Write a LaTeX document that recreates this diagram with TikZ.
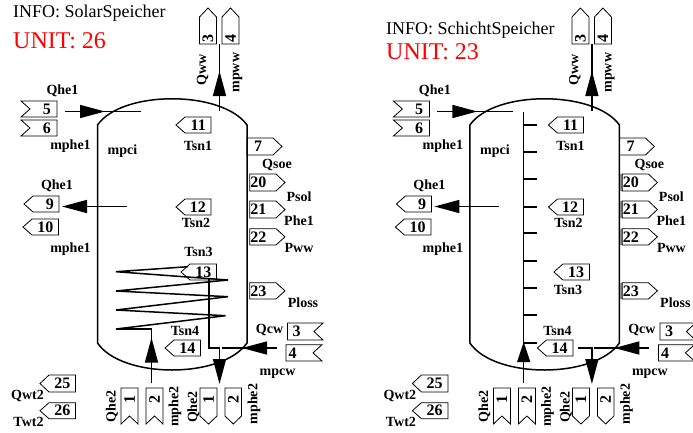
\documentclass[tikz,border=0pt]{standalone}
\usepackage{fontspec}
\setmainfont{Liberation Serif}
\usetikzlibrary{arrows.meta}
\newcommand\tagL[6]{% left pointing: name,x1,x2,y1,y2,num
  \draw[tagline] (#2,{(#4+#5)/2}) -- (#2+9,#4) -- (#3,#4) -- (#3,#5) -- (#2+9,#5) -- cycle;
  \node[num,anchor=east] (#1) at (#3-5,{(#4+#5)/2}) {#6};}
\newcommand\tagR[7]{% right pointing: name,x1,x2,y1,y2,num,text inset
  \draw[tagline] (#2,#4) -- (#3-9,#4) -- (#3,{(#4+#5)/2}) -- (#3-9,#5) -- (#2,#5) -- cycle;
  \node[num,anchor=west] (#1) at (#2+#7,{(#4+#5)/2}) {#6};}
\newcommand\tagNL[6]{% notch on left
  \draw[tagline] (#2,#4) -- (#3,#4) -- (#3,#5) -- (#2,#5) -- (#2+9,{(#4+#5)/2}) -- cycle;
  \node[num,anchor=east] (#1) at (#3-6,{(#4+#5)/2}) {#6};}
\newcommand\tagNR[7]{% notch on right
  \draw[tagline] (#2,#4) -- (#3,#4) -- (#3-9,{(#4+#5)/2}) -- (#3,#5) -- (#2,#5) -- cycle;
  \node[num,anchor=west] (#1) at (#2+#7,{(#4+#5)/2}) {#6};}
\newcommand\tagUp[6]{% up pointing: name,x1,x2,y1,y2,num
  \draw[tagline] (#2,#5) -- (#2,#4+9) -- ({(#2+#3)/2},#4) -- (#3,#4+9) -- (#3,#5) -- cycle;
  \node[num,rotate=90,anchor=west] (#1) at ({(#2+#3)/2},#5-1) {#6};}
\newcommand\tagDn[6]{% down pointing
  \draw[tagline] (#2,#4) -- (#3,#4) -- (#3,#5-8) -- ({(#2+#3)/2},#5) -- (#2,#5-8) -- cycle;
  \node[num,rotate=90] (#1) at ({(#2+#3)/2},#4+11) {#6};}
\newcommand\tagNB[6]{% notch at bottom
  \draw[tagline] (#2,#4) -- (#3,#4) -- (#3,#5) -- ({(#2+#3)/2},#5-8) -- (#2,#5) -- cycle;
  \node[num,rotate=90] (#1) at ({(#2+#3)/2},#4+11) {#6};}
\newcommand\lab[4]{\node[lbl] (#1) at (#2,#3) {#4};}
\newcommand\labV[4]{\node[lbl,rotate=90] (#1) at (#2,#3) {#4};}
\newcommand\common{%
  \draw[wall] (97.5,125) .. controls (122,90) and (222,90) .. (247,125) -- (247,343)
     .. controls (222,379) and (122,379) .. (97.5,343) -- cycle;
  \coordinate (inA) at (65,111.5); \coordinate (inT) at (105,111.5); \coordinate (inB) at (141,111.5);
  \draw[conn] (inA) -- (inB); \draw[conn,big] (inA) -- (inT);
  \coordinate (outA) at (127,206.5); \coordinate (outT) at (62,206.5);
  \draw[conn,big] (outA) -- (outT);
  \coordinate (wwA) at (219.5,111); \coordinate (wwT) at (219.5,71); \coordinate (wwB) at (219.5,44);
  \draw[conn] (wwA) -- (wwB); \draw[conn,big] (wwA) -- (wwT);
  \coordinate (cwA) at (276.7,348); \coordinate (cwT) at (242,348); \coordinate (cwB) at (222,348);
  \draw[conn] (cwA) -- (cwB); \draw[conn,big] (cwA) -- (cwT);
  \tagNL{t5}{21}{57}{101}{117}{5}
  \tagNL{t6}{21}{57}{120}{136}{6}
  \tagL{t9}{24}{59}{196}{212}{9}
  \tagL{t10}{23}{58.5}{219}{235}{10}
  \tagL{t11}{176}{211}{117}{133}{11}
  \tagL{t12}{176}{211}{199}{215}{12}
  \tagL{t14}{165}{200.5}{340}{356}{14}
  \tagR{t7}{247}{282}{138}{155}{7}{7}
  \tagR{t20}{249.7}{285}{174}{191}{20}{0.5}
  \tagR{t21}{249.7}{285}{201}{218}{21}{0.5}
  \tagR{t22}{249.7}{285}{228.7}{245}{22}{0.5}
  \tagR{t23}{249.7}{285}{282.7}{299}{23}{0.5}
  \tagNR{t3}{287.5}{323}{323}{340}{3}{5}
  \tagNR{t4}{286}{322}{344.7}{361}{4}{2.5}
  \tagL{t25}{40}{75.5}{375}{392}{25}
  \tagL{t26}{40}{75.5}{402.7}{418.7}{26}
  \tagUp{u3}{199.5}{216.5}{8}{44}{3}
  \tagUp{u4}{222}{239}{8}{44}{4}
  \tagNB{b1}{121}{138}{388}{424}{1}
  \tagNB{b2}{146}{163}{388}{424}{2}
  \tagDn{d1}{200}{217}{388}{424}{1}
  \tagDn{d2}{225}{241.5}{388}{424}{2}
  \lab{l1}{62.5}{90.5}{Qhe1}
  \lab{l2}{70.5}{146}{mphe1}
  \lab{l3}{122.5}{151}{mpci}
  \lab{l4}{198}{146}{Tsn1}
  \lab{l5}{277}{164.5}{Qsoe}
  \lab{l6}{299}{197}{Psol}
  \lab{l7}{57}{186}{Qhe1}
  \lab{l8}{196}{222.7}{Tsn2}
  \lab{l9}{299}{221}{Phe1}
  \lab{l10}{70.5}{248.7}{mphe1}
  \lab{l11}{299}{248.3}{Pww}
  \lab{l12}{303}{302.7}{Ploss}
  \lab{l13}{269.5}{330.3}{Qcw}
  \lab{l14}{185}{331}{Tsn4}
  \lab{l15}{277.5}{373.7}{mpcw}
  \lab{l16}{27.5}{396}{Qwt2}
  \lab{l17}{28.5}{422}{Twt2}
  \labV{v1}{112}{406.7}{Qhe2}
  \labV{v2}{175}{406.7}{mphe2}
  \labV{v3}{193.5}{407}{Qhe2}
  \labV{v4}{254}{404}{mphe2}
  \labV{v5}{202.5}{70}{Qww}
  \labV{v6}{237.5}{72.7}{mpww}
}
\tikzset{
  x=1pt,y=-1pt,
  tagline/.style={draw=black,line width=0.8pt},
  wall/.style={draw=black,line width=1.5pt},
  conn/.style={draw=black,line width=1.5pt},
  big/.style={-{Triangle[length=25pt,width=13pt]}},
  num/.style={font=\bfseries\fontsize{16}{16}\selectfont,inner sep=0pt},
  lbl/.style={font=\bfseries\fontsize{14}{14}\selectfont,inner sep=0pt},
  info/.style={font=\fontsize{18}{18}\selectfont,inner sep=0pt,anchor=west},
  unit/.style={font=\fontsize{24}{24}\selectfont,text=red,inner sep=0pt,anchor=west},
}
\begin{document}
\begin{tikzpicture}
\useasboundingbox (0,0) rectangle (693,432);
\node[info] (infoA) at (13,13) {INFO: SolarSpeicher};
\node[unit] (unitA) at (13,41) {UNIT: 26};
\node[info] (infoB) at (386,30) {INFO: SchichtSpeicher};
\node[unit] (unitB) at (386,52) {UNIT: 23};
% left tank
\begin{scope}[name prefix=a-]
  \common
  \tagL{t13}{181}{216.5}{264}{280}{13}
  \lab{l18}{198.5}{251.7}{Tsn3}
  \draw[conn,line join=miter] (116,329) -- (225.5,315.7) -- (116,310) -- (228,296.7) -- (116,291) -- (228,280) -- (116,271.7) -- (188,266.7);
  \coordinate (upA) at (151.5,383); \coordinate (upT) at (151.5,337.6); \coordinate (upB) at (151.5,329); \coordinate (coilE) at (116,329);
  \draw[conn] (upA) -- (upB) -- (coilE); \draw[conn,big] (upA) -- (upT);
  \coordinate (dnS) at (208.8,278); \coordinate (dnC) at (208.8,348); \coordinate (dnD) at (219.5,348); \coordinate (dnT) at (219.5,384);
  \draw[conn] (dnS) -- (dnC) -- (dnD) -- (219.5,358); \draw[conn,big] (219.5,350) -- (dnT);
\end{scope}
% right tank
\begin{scope}[shift={(372.4,0)},name prefix=b-]
  \foreach \ya/\yb in {174/191,201/218,228.7/245,282.7/299} { \fill[gray!70] (248,\ya) rectangle (249.7,\yb); }
  \common
  \tagL{t13}{181.5}{217}{264}{280}{13}
  \lab{l18}{195.6}{290}{Tsn3}
  \coordinate (spA) at (151.3,383); \coordinate (spT) at (151.3,342); \coordinate (spB) at (151.3,112);
  \draw[conn] (spA) -- (spB); \draw[conn,-{Triangle[length=20pt,width=13pt]}] (spA) -- (spT);
  \foreach \yy in {125,152,179,207,233,261,288,315,343} { \draw[conn] (151.3,\yy) -- (165,\yy); }
  \coordinate (dnC) at (205.5,348); \coordinate (dnD) at (219.5,348); \coordinate (dnT) at (219.5,384);
  \draw[conn] (dnC) -- (dnD) -- (219.5,358); \draw[conn,big] (219.5,350) -- (dnT);
\end{scope}
\end{tikzpicture}
\end{document}
